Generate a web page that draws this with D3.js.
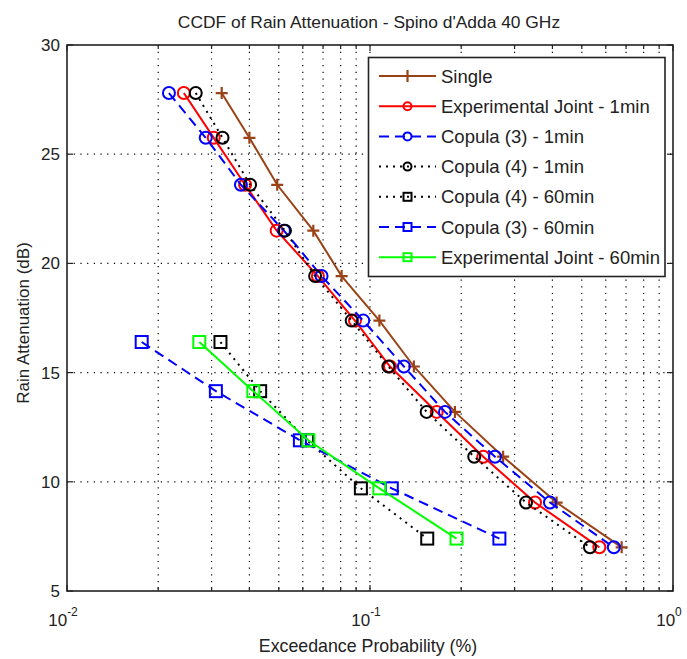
<!DOCTYPE html>
<html>
<head>
<meta charset="utf-8">
<script src="https://cdn.jsdelivr.net/npm/d3@7"></script>
<style>
  html, body { margin: 0; padding: 0; background: #fff; }
  svg text { font-family: "Liberation Sans", Arial, sans-serif; fill: #222; }
</style>
</head>
<body>
<svg id="chart" width="687" height="659"></svg>
<script>
// Attenuation levels (dB) shared by the 1-minute and 60-minute curves
const levels1min  = [27.8, 25.75, 23.6, 21.5, 19.42, 17.38, 15.28, 13.2, 11.15, 9.05, 7.0];
const levels60min = [16.4, 14.15, 11.9, 9.7, 7.4];

// Exceedance probabilities (%) for each curve
const singleP      = [0.0324, 0.0400, 0.0494, 0.0650, 0.0806, 0.1074, 0.1396, 0.1907, 0.2750, 0.4130, 0.6770];
const expJoint1P   = [0.0243, 0.0305, 0.0387, 0.0492, 0.0673, 0.0892, 0.1164, 0.1660, 0.2366, 0.3505, 0.5715];
const copula3_1P   = [0.0217, 0.0287, 0.0375, 0.0520, 0.0692, 0.0950, 0.1294, 0.1768, 0.2585, 0.3926, 0.6380];
const copula4_1P   = [0.0266, 0.0326, 0.0402, 0.0524, 0.0659, 0.0870, 0.1150, 0.1538, 0.2208, 0.3274, 0.5320];
const copula4_60P  = [0.0321, 0.0434, 0.0620, 0.0933, 0.1545];
const copula3_60P  = [0.01764, 0.0310, 0.0587, 0.1180, 0.2673];
const expJoint60P  = [0.02733, 0.0412, 0.0626, 0.1074, 0.1930];

const seriesNames = ["Single", "Experimental Joint - 1min", "Copula (3) - 1min", "Copula (4) - 1min",
                     "Copula (4) - 60min", "Copula (3) - 60min", "Experimental Joint - 60min"];

const xTickExps = [-2, -1, 0];
const yTicks = [5, 10, 15, 20, 25, 30];

const series = [
  { name: seriesNames[0], p: singleP,     a: levels1min,  color: "#9a4317", dash: null,   marker: "plus" },
  { name: seriesNames[1], p: expJoint1P,  a: levels1min,  color: "#ff0000", dash: null,   marker: "circle" },
  { name: seriesNames[2], p: copula3_1P,  a: levels1min,  color: "#0000ff", dash: "10,6", marker: "circle" },
  { name: seriesNames[3], p: copula4_1P,  a: levels1min,  color: "#000000", dash: "2,5",  marker: "circle" },
  { name: seriesNames[4], p: copula4_60P, a: levels60min, color: "#000000", dash: "2,5",  marker: "square" },
  { name: seriesNames[5], p: copula3_60P, a: levels60min, color: "#0000ff", dash: "10,6", marker: "square" },
  { name: seriesNames[6], p: expJoint60P, a: levels60min, color: "#00ff00", dash: null,   marker: "square" }
];

const svg = d3.select("#chart");
const m = { left: 67, top: 45, right: 673, bottom: 591 };

const x = d3.scaleLog().domain([0.01, 1]).range([m.left, m.right]);
const y = d3.scaleLinear().domain([5, 30]).range([m.bottom, m.top]);

// Grid: major y, major + minor x (dotted)
const minorX = [];
[0.01, 0.1].forEach(d => { for (let k = 2; k <= 9; k++) minorX.push(d * k); });
const gridX = minorX.concat([0.1]);
const grid = svg.append("g").attr("stroke", "#000").attr("stroke-width", 1.2)
  .attr("stroke-dasharray", "1.2,5.5");
grid.selectAll("line.gx").data(gridX).join("line")
  .attr("x1", d => x(d)).attr("x2", d => x(d))
  .attr("y1", m.top).attr("y2", m.bottom);
grid.selectAll("line.gy").data(yTicks.filter(d => d > 5 && d < 30)).join("line")
  .attr("x1", m.left).attr("x2", m.right)
  .attr("y1", d => y(d)).attr("y2", d => y(d));

// Axes box and inward ticks
const frame = svg.append("g").attr("stroke", "#222").attr("fill", "none");
frame.append("rect").attr("x", m.left).attr("y", m.top)
  .attr("width", m.right - m.left).attr("height", m.bottom - m.top).attr("stroke-width", 1.6);

const ticks = svg.append("g").attr("stroke", "#222").attr("stroke-width", 1.2);
xTickExps.map(e => Math.pow(10, e)).forEach(v => {
  ticks.append("line").attr("x1", x(v)).attr("x2", x(v)).attr("y1", m.bottom).attr("y2", m.bottom - 6);
  ticks.append("line").attr("x1", x(v)).attr("x2", x(v)).attr("y1", m.top).attr("y2", m.top + 6);
});
minorX.forEach(v => {
  ticks.append("line").attr("x1", x(v)).attr("x2", x(v)).attr("y1", m.bottom).attr("y2", m.bottom - 4);
  ticks.append("line").attr("x1", x(v)).attr("x2", x(v)).attr("y1", m.top).attr("y2", m.top + 4);
});
yTicks.forEach(v => {
  ticks.append("line").attr("x1", m.left).attr("x2", m.left + 6).attr("y1", y(v)).attr("y2", y(v));
  ticks.append("line").attr("x1", m.right).attr("x2", m.right - 6).attr("y1", y(v)).attr("y2", y(v));
});

// Tick labels
svg.append("g").selectAll("text").data(yTicks).join("text")
  .attr("x", m.left - 7).attr("y", d => y(d) + 6)
  .attr("text-anchor", "end").attr("font-size", 17).text(d => d);

const xl = svg.append("g").selectAll("text").data(xTickExps).join("text")
  .attr("x", d => x(Math.pow(10, d)) - 4).attr("y", m.bottom + 35)
  .attr("text-anchor", "middle").attr("font-size", 17);
xl.append("tspan").text("10");
xl.append("tspan").attr("dy", -10).attr("font-size", 12).text(d => d === 0 ? "0" : d);

// Titles
svg.append("text").attr("x", 369).attr("y", 28).attr("text-anchor", "middle")
  .attr("font-size", 17.4).text("CCDF of Rain Attenuation - Spino d'Adda 40 GHz");
svg.append("text").attr("x", 368).attr("y", 652).attr("text-anchor", "middle")
  .attr("font-size", 17.8).text("Exceedance Probability (%)");
svg.append("text").attr("transform", "translate(29,323) rotate(-90)").attr("text-anchor", "middle")
  .attr("font-size", 17).text("Rain Attenuation (dB)");

// Marker drawing helper
function drawMarker(g, cx, cy, s, size) {
  if (s.marker === "circle") {
    g.append("circle").attr("cx", cx).attr("cy", cy).attr("r", size)
      .attr("fill", "none").attr("stroke", s.color).attr("stroke-width", 2);
  } else if (s.marker === "square") {
    g.append("rect").attr("x", cx - size).attr("y", cy - size)
      .attr("width", size * 2).attr("height", size * 2)
      .attr("fill", "none").attr("stroke", s.color).attr("stroke-width", 2);
  } else {
    g.append("path").attr("d", `M${cx - size},${cy}H${cx + size}M${cx},${cy - size}V${cy + size}`)
      .attr("stroke", s.color).attr("stroke-width", 2.2);
  }
}

// Curves
const line = d3.line().x(d => x(d[0])).y(d => y(d[1]));
const plot = svg.append("g");
series.forEach(s => {
  const pts = s.p.map((v, i) => [v, s.a[i]]);
  plot.append("path").datum(pts).attr("d", line)
    .attr("fill", "none").attr("stroke", s.color).attr("stroke-width", 2)
    .attr("stroke-dasharray", s.dash);
  const mg = plot.append("g");
  pts.forEach(d => drawMarker(mg, x(d[0]), y(d[1]), s, 6));
});

// Legend
const lg = svg.append("g");
lg.append("rect").attr("x", 368.5).attr("y", 57.5).attr("width", 296.5).attr("height", 219)
  .attr("fill", "#fff").attr("stroke", "#222").attr("stroke-width", 1.6);
series.forEach((s, i) => {
  const cy = 76 + i * 30.2;
  lg.append("line").attr("x1", 379).attr("x2", 436).attr("y1", cy).attr("y2", cy)
    .attr("stroke", s.color).attr("stroke-width", 2).attr("stroke-dasharray", s.dash);
  drawMarker(lg, 407.5, cy, s, s.marker === "plus" ? 6 : 4);
  lg.append("text").attr("x", 441).attr("y", cy + 6.5).attr("font-size", 18.5).text(s.name);
});
</script>
</body>
</html>
